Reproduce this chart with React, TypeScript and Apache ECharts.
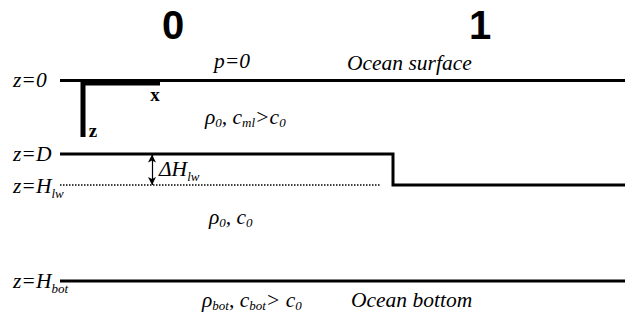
import React, { useEffect, useRef } from "react";
import * as echarts from "echarts";

// Diagram geometry in diagram units (x: horizontal distance, z: depth downwards)
const surfaceLine: number[][] = [[60, 80.5], [625, 80.5]];
const interfaceLine: number[][] = [[60, 154], [393, 154], [393, 185], [625, 185]];
const lowerInterfaceLine: number[][] = [[60, 185], [380, 185]];
const bottomLine: number[][] = [[60, 281], [625, 281]];
const xAxisArm: number[][] = [[81, 83], [160, 83]];
const zAxisArm: number[][] = [[83, 81], [83, 137]];
const deltaArrow: number[][] = [[152, 154.5], [152, 185]];
const regionTitles: string[] = ["0", "1"];

const SERIF = "'Liberation Serif', 'DejaVu Serif', serif";
const SANS = "'Liberation Sans', Arial, sans-serif";

const baseRich = {
  m: { fontFamily: SERIF, fontStyle: "italic", fontSize: 21.5, lineHeight: 23, fill: "#000", verticalAlign: "middle" },
  s: { fontFamily: SERIF, fontStyle: "italic", fontSize: 13, lineHeight: 23, fill: "#000", verticalAlign: "bottom" },
  s2: { fontFamily: SERIF, fontStyle: "italic", fontSize: 13, lineHeight: 27, fill: "#000", verticalAlign: "bottom" },
};

function rtext(x: number, y: number, text: string) {
  return {
    type: "text",
    x,
    y,
    style: {
      text,
      fill: "#000",
      fontFamily: SERIF,
      fontStyle: "italic",
      fontSize: 21.5,
      verticalAlign: "middle",
      align: "left",
      rich: baseRich,
    },
  };
}

export default function App() {
  const ref = useRef<HTMLDivElement>(null);
  useEffect(() => {
    if (!ref.current) return;
    const chart = echarts.init(ref.current, undefined, { renderer: "svg" });
    const lineSeries = (data: number[][], width: number, type: string = "solid") => ({
      type: "line",
      data,
      symbol: "none",
      silent: true,
      lineStyle: { color: "#000", width, type, cap: "butt", join: "miter" },
    });
    chart.setOption({
      animation: false,
      backgroundColor: "#fff",
      grid: { left: 0, right: 0, top: 0, bottom: 0 },
      xAxis: { type: "value", min: 0, max: 631, show: false },
      yAxis: { type: "value", min: 0, max: 314, inverse: true, show: false },
      series: [
        lineSeries(surfaceLine, 3),
        lineSeries(interfaceLine, 3),
        lineSeries(lowerInterfaceLine, 1.5, "dotted"),
        lineSeries(bottomLine, 3),
        lineSeries(xAxisArm, 5),
        lineSeries(zAxisArm, 5),
        {
          type: "line",
          data: [],
          markLine: {
            silent: true,
            symbol: ["arrow", "arrow"],
            symbolSize: [6, 8],
            label: { show: false },
            lineStyle: { color: "#000", width: 1.2, type: "solid" },
            data: [[{ coord: deltaArrow[0] }, { coord: deltaArrow[1] }]],
          },
        },
      ],
      graphic: [
        {
          type: "text", x: 173, y: 25,
          style: { text: regionTitles[0], fontFamily: SANS, fontWeight: "bold", fontSize: 40, fill: "#000", align: "center", verticalAlign: "middle" },
        },
        {
          type: "text", x: 480, y: 25,
          style: { text: regionTitles[1], fontFamily: SANS, fontWeight: "bold", fontSize: 40, fill: "#000", align: "center", verticalAlign: "middle" },
        },
        rtext(13, 80, "{m|z=0}"),
        rtext(13, 154, "{m|z=D}"),
        rtext(13, 186, "{m|z=H}{s2|lw}"),
        rtext(13, 281, "{m|z=H}{s2|bot}"),
        rtext(214, 61, "{m|p=0}"),
        rtext(347, 63, "{m|Ocean surface}"),
        rtext(205, 117, "{m|ρ}{s|0}{m|, c}{s|ml}{m|>c}{s|0}"),
        rtext(159, 169, "{m|ΔH}{s2|lw}"),
        rtext(209, 217, "{m|ρ}{s|0}{m|, c}{s|0}"),
        rtext(202, 300, "{m|ρ}{s|bot}{m|, c}{s|bot}{m|> c}{s|0}"),
        rtext(351, 300, "{m|Ocean bottom}"),
        {
          type: "text", x: 155, y: 94,
          style: { text: "x", fontFamily: SERIF, fontWeight: "bold", fontSize: 19, fill: "#000", align: "center", verticalAlign: "middle" },
        },
        {
          type: "text", x: 93, y: 130,
          style: { text: "z", fontFamily: SERIF, fontWeight: "bold", fontSize: 19, fill: "#000", align: "center", verticalAlign: "middle" },
        },
      ],
    });
    return () => chart.dispose();
  }, []);
  return (
    <div
      ref={ref}
      style={{ position: "fixed", left: 0, top: 0, width: 631, height: 314, background: "#fff" }}
    />
  );
}
